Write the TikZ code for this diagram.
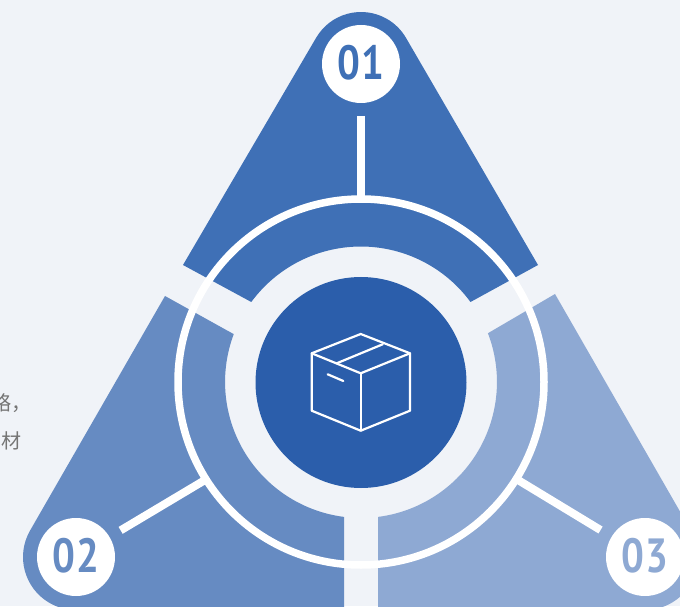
\documentclass[tikz,border=0pt]{standalone}
\usepackage{fontspec}
\setmainfont{Noto Sans CJK SC}
\newfontfamily\numfont[FakeStretch=0.84,LetterSpace=2]{PT Sans}
\usetikzlibrary{positioning, calc}
\definecolor{pagebg}{HTML}{F0F3F8}
\definecolor{coreblue}{HTML}{2B5EAB}
\definecolor{blueone}{HTML}{3F70B6}
\definecolor{bluetwo}{HTML}{668BC2}
\definecolor{bluethree}{HTML}{8EA9D3}
\definecolor{notegray}{HTML}{757575}
\tikzset{
  badge/.style={circle, fill=white, minimum size=78pt, inner sep=0pt, outer sep=0pt, text depth=4pt, font=\numfont\bfseries\fontsize{48}{48}\selectfont},
  spoke/.style={white, line width=8pt, shorten <=13pt},
  boxline/.style={white, line width=2.2pt, line join=round, line cap=round},
  note/.style={text=notegray, font=\fontsize{20}{20}\selectfont, inner sep=0pt, anchor=east}
}

\begin{document}
\begin{tikzpicture}[x=1pt, y=1pt]
  \useasboundingbox (0,0) rectangle (680,606);
  \clip (0,0) rectangle (680,606);
  \fill[pagebg] (0,0) rectangle (680,606);

  % Sectors
  \fill[blueone] (183,341) -- (316,568) arc[start angle=150, end angle=30, radius=52]
    -- (538,341) -- (470.5,304) arc[start angle=36.3, end angle=143.7, radius=136] -- cycle;
  \fill[bluetwo] (165,310) -- (30.1,75.5) arc[start angle=150, end angle=270, radius=53]
    -- (344,-4) -- (344,89.1) arc[start angle=262.8, end angle=159.4, radius=136] -- cycle;
  \fill[bluethree] (555,312) -- (690.9,75.5) arc[start angle=30, end angle=-90, radius=53]
    -- (378,-4) -- (378,89.1) arc[start angle=277.2, end angle=381, radius=136] -- cycle;

  % Ring and core
  \draw[white, line width=7.5pt] (361,224) circle[radius=183];
  \node[circle, fill=coreblue, minimum size=211pt, inner sep=0pt] (core) at (361,223.5) {};

  % Badges
  \node[badge, text=blueone] (b1) at (361,542) {01};
  \node[badge, text=bluetwo] (b2) at (76,49) {02};
  \node[badge, text=bluethree] (b3) at (645,49) {03};

  % Spokes
  \coordinate (r1) at (361,408);
  \coordinate (r2) at (205,126);
  \coordinate (r3) at (518,126);
  \draw[spoke] (b1) -- (r1);
  \draw[spoke] (b2) -- (r2);
  \draw[spoke] (b3) -- (r3);

  % Box icon
  \draw[boxline] (360.7,272) -- (410,252.7) -- (410,195.3) -- (360.7,175.3) -- (311.7,195.3) -- (311.7,252.7) -- cycle;
  \draw[boxline] (311.7,252.7) -- (360.7,232.7) -- (410,252.7);
  \draw[boxline] (360.7,232.7) -- (360.7,175.3);
  \draw[boxline] (336.7,242.7) -- (382.7,261.7);
  \draw[boxline] (327.7,231.7) -- (343.3,225);

  % Side text
  \node[note] (n1) at (32,203) {略，};
  \node[note] (n2) at (22,165) {材};
\end{tikzpicture}
\end{document}
